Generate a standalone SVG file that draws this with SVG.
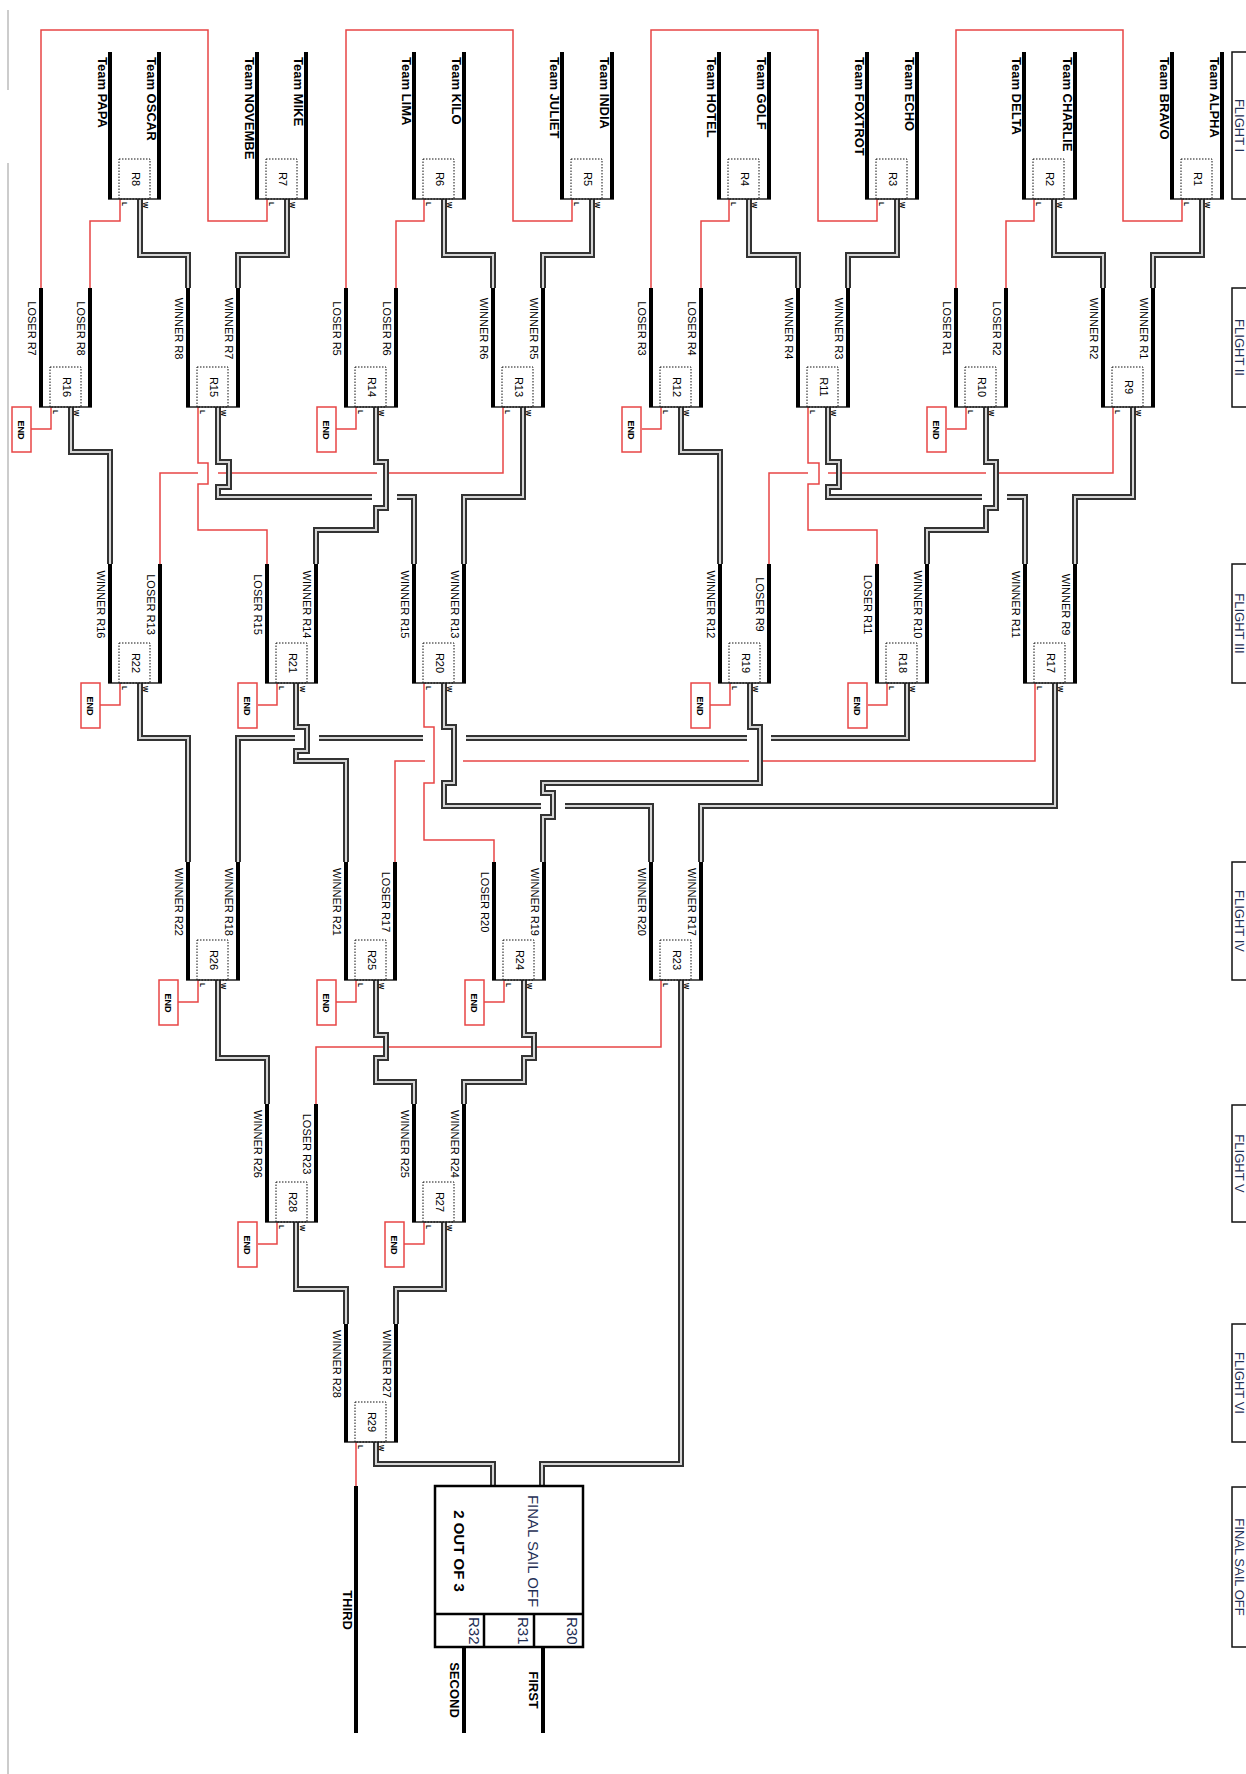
<svg xmlns="http://www.w3.org/2000/svg" width="1246" height="1774" viewBox="0 0 1246 1774">
<style>
.bar{stroke:#000;stroke-width:4;fill:none}
.base{stroke:#222;stroke-width:1.6;fill:none}
.dot{fill:none;stroke:#111;stroke-width:1;stroke-dasharray:1.5 1.5}
.red{fill:none;stroke:#e84545;stroke-width:1.5}
.wo{fill:none;stroke:#333;stroke-width:6}
.wi{fill:none;stroke:#d6d6d6;stroke-width:2}
.endb{fill:#fff;stroke:#e84545;stroke-width:1.5}
.fbox{fill:none;stroke:#111;stroke-width:1.5}
text{font-family:"Liberation Sans",Arial,sans-serif;fill:#000}
.team{font-size:13px;font-weight:bold}
.lab{font-size:11px;text-anchor:middle}
.rn{font-size:11px;text-anchor:middle}
.lw{font-size:6.5px;font-weight:bold}
.endt{font-size:9px;font-weight:bold;text-anchor:middle}
.fl{font-size:13px;fill:#1f2f55;text-anchor:middle}
.fin{font-size:15px;fill:#1f2f55}
.res{font-size:13px;font-weight:bold;text-anchor:middle}
</style>
<defs>
<g id="winpaths">
<path d="M140 199V255H188V288"/>
<path d="M287 199V255H238V288"/>
<path d="M444 199V255H493V288"/>
<path d="M592 199V255H543V288"/>
<path d="M749 199V255H798V288"/>
<path d="M897 199V255H848V288"/>
<path d="M1054 199V255H1103V288"/>
<path d="M1202 199V255H1153V288"/>
<path d="M71 407V452H110V564"/>
<path d="M218 407V462H229V487H218V497H372"/>
<path d="M397 497H414V564"/>
<path d="M376 407V462H386V508H376V530H316V564"/>
<path d="M523 407V497H464V564"/>
<path d="M681 407V452H720V564"/>
<path d="M828 407V462H839V487H828V497H982"/>
<path d="M1007 497H1025V564"/>
<path d="M986 407V462H996V508H986V530H927V564"/>
<path d="M1133 407V497H1075V564"/>
<path d="M140 683V738H188V862"/>
<path d="M296 683V727H307V751H296V761H346V862"/>
<path d="M444 683V727H454V783H444V806H541"/>
<path d="M565 806H651V862"/>
<path d="M750 683V727H760V783H543V793H553V817H543V862"/>
<path d="M907 683V738H771"/>
<path d="M747 738H466"/>
<path d="M423 738H319"/>
<path d="M295 738H238V862"/>
<path d="M1055 683V806H701V862"/>
<path d="M218 980V1058H267V1104"/>
<path d="M376 980V1035H386V1058H376V1082H414V1104"/>
<path d="M524 980V1035H534V1058H524V1082H464V1104"/>
<path d="M681 980V1464H542V1486"/>
<path d="M296 1222V1289H346V1324"/>
<path d="M444 1222V1289H396V1324"/>
<path d="M376 1442V1464H493V1486"/>
</g>
</defs>
<g id="page-border" stroke="#bbb" stroke-width="1.5">
<line x1="8" y1="10" x2="8" y2="90"/>
<line x1="8" y1="163" x2="8" y2="1774"/>
</g>
<g id="connectors">
<g class="red">
<path d="M120 199V221H90V288"/>
<path d="M267 199V221H208V30H41V288"/>
<path d="M424 199V221H396V288"/>
<path d="M572 199V221H513V30H346V288"/>
<path d="M729 199V221H701V288"/>
<path d="M877 199V221H818V30H651V288"/>
<path d="M1034 199V221H1006V288"/>
<path d="M1182 199V221H1123V30H956V288"/>
<path d="M51 407V429H31"/>
<path d="M198 407V463H208V484H198V530H267V564"/>
<path d="M356 407V429H336"/>
<path d="M503 407V473H387M377 473H218M198 473H160V564"/>
<path d="M661 407V429H642"/>
<path d="M808 407V463H819V484H808V530H877V564"/>
<path d="M966 407V429H947"/>
<path d="M1113 407V473H997M986 473H828M808 473H769V564"/>
<path d="M120 683V705H100"/>
<path d="M277 683V705H258"/>
<path d="M424 683V727H434V783H424V840H494V862"/>
<path d="M730 683V705H710"/>
<path d="M887 683V705H868"/>
<path d="M1035 683V761H763M749 761H463M425 761H395V862"/>
<path d="M198 980V1002H178"/>
<path d="M356 980V1002H336"/>
<path d="M504 980V1002H484"/>
<path d="M661 980V1047H316V1104"/>
<path d="M277 1222V1244H258"/>
<path d="M424 1222V1244H404"/>
<path d="M356 1442V1486"/>
</g>
<use href="#winpaths" class="wo"/>
<use href="#winpaths" class="wi"/>
</g>

<!-- FLIGHT I -->
<g id="R8"><path class="base" d="M108 199H161"/><path class="bar" d="M110 52V199M159 52V199"/><rect class="dot" x="119" y="159" width="31" height="40"/>
<text class="rn" transform="translate(132 179) rotate(90)">R8</text><text class="lw" transform="translate(122 202) rotate(90)">L</text><text class="lw" transform="translate(143 202) rotate(90)">W</text>
<text class="team" transform="translate(98 57) rotate(90)">Team PAPA</text><text class="team" transform="translate(147 57) rotate(90)">Team OSCAR</text></g>
<g id="R7"><path class="base" d="M255 199H308"/><path class="bar" d="M257 52V199M306 52V199"/><rect class="dot" x="266" y="159" width="31" height="40"/>
<text class="rn" transform="translate(279 179) rotate(90)">R7</text><text class="lw" transform="translate(269 202) rotate(90)">L</text><text class="lw" transform="translate(290 202) rotate(90)">W</text>
<text class="team" transform="translate(245 57) rotate(90)">Team NOVEMBE</text><text class="team" transform="translate(294 57) rotate(90)">Team MIKE</text></g>
<g id="R6"><path class="base" d="M412 199H466"/><path class="bar" d="M414 52V199M464 52V199"/><rect class="dot" x="423" y="159" width="31" height="40"/>
<text class="rn" transform="translate(436 179) rotate(90)">R6</text><text class="lw" transform="translate(426 202) rotate(90)">L</text><text class="lw" transform="translate(447 202) rotate(90)">W</text>
<text class="team" transform="translate(402 57) rotate(90)">Team LIMA</text><text class="team" transform="translate(452 57) rotate(90)">Team KILO</text></g>
<g id="R5"><path class="base" d="M560 199H614"/><path class="bar" d="M562 52V199M612 52V199"/><rect class="dot" x="571" y="159" width="31" height="40"/>
<text class="rn" transform="translate(584 179) rotate(90)">R5</text><text class="lw" transform="translate(574 202) rotate(90)">L</text><text class="lw" transform="translate(595 202) rotate(90)">W</text>
<text class="team" transform="translate(550 57) rotate(90)">Team JULIET</text><text class="team" transform="translate(600 57) rotate(90)">Team INDIA</text></g>
<g id="R4"><path class="base" d="M717 199H771"/><path class="bar" d="M719 52V199M769 52V199"/><rect class="dot" x="728" y="159" width="31" height="40"/>
<text class="rn" transform="translate(741 179) rotate(90)">R4</text><text class="lw" transform="translate(731 202) rotate(90)">L</text><text class="lw" transform="translate(752 202) rotate(90)">W</text>
<text class="team" transform="translate(707 57) rotate(90)">Team HOTEL</text><text class="team" transform="translate(757 57) rotate(90)">Team GOLF</text></g>
<g id="R3"><path class="base" d="M865 199H919"/><path class="bar" d="M867 52V199M917 52V199"/><rect class="dot" x="876" y="159" width="31" height="40"/>
<text class="rn" transform="translate(889 179) rotate(90)">R3</text><text class="lw" transform="translate(879 202) rotate(90)">L</text><text class="lw" transform="translate(900 202) rotate(90)">W</text>
<text class="team" transform="translate(855 57) rotate(90)">Team FOXTROT</text><text class="team" transform="translate(905 57) rotate(90)">Team ECHO</text></g>
<g id="R2"><path class="base" d="M1022 199H1077"/><path class="bar" d="M1024 52V199M1075 52V199"/><rect class="dot" x="1033" y="159" width="31" height="40"/>
<text class="rn" transform="translate(1046 179) rotate(90)">R2</text><text class="lw" transform="translate(1036 202) rotate(90)">L</text><text class="lw" transform="translate(1057 202) rotate(90)">W</text>
<text class="team" transform="translate(1012 57) rotate(90)">Team DELTA</text><text class="team" transform="translate(1063 57) rotate(90)">Team CHARLIE</text></g>
<g id="R1"><path class="base" d="M1170 199H1224"/><path class="bar" d="M1172 52V199M1222 52V199"/><rect class="dot" x="1181" y="159" width="31" height="40"/>
<text class="rn" transform="translate(1194 179) rotate(90)">R1</text><text class="lw" transform="translate(1184 202) rotate(90)">L</text><text class="lw" transform="translate(1205 202) rotate(90)">W</text>
<text class="team" transform="translate(1160 57) rotate(90)">Team BRAVO</text><text class="team" transform="translate(1210 57) rotate(90)">Team ALPHA</text></g>

<!-- FLIGHT II -->
<g id="R16"><path class="base" d="M39 407H92"/><path class="bar" d="M41 288V407M90 288V407"/><rect class="dot" x="50" y="367" width="31" height="40"/>
<text class="rn" transform="translate(63 387) rotate(90)">R16</text><text class="lw" transform="translate(53 410) rotate(90)">L</text><text class="lw" transform="translate(74 410) rotate(90)">W</text>
<text class="lab" transform="translate(28 328.5) rotate(90)">LOSER R7</text><text class="lab" transform="translate(77 328.5) rotate(90)">LOSER R8</text></g>
<g id="R15"><path class="base" d="M186 407H240"/><path class="bar" d="M188 288V407M238 288V407"/><rect class="dot" x="197" y="367" width="31" height="40"/>
<text class="rn" transform="translate(210 387) rotate(90)">R15</text><text class="lw" transform="translate(200 410) rotate(90)">L</text><text class="lw" transform="translate(221 410) rotate(90)">W</text>
<text class="lab" transform="translate(175 328.5) rotate(90)">WINNER R8</text><text class="lab" transform="translate(225 328.5) rotate(90)">WINNER R7</text></g>
<g id="R14"><path class="base" d="M344 407H398"/><path class="bar" d="M346 288V407M396 288V407"/><rect class="dot" x="355" y="367" width="31" height="40"/>
<text class="rn" transform="translate(368 387) rotate(90)">R14</text><text class="lw" transform="translate(358 410) rotate(90)">L</text><text class="lw" transform="translate(379 410) rotate(90)">W</text>
<text class="lab" transform="translate(333 328.5) rotate(90)">LOSER R5</text><text class="lab" transform="translate(383 328.5) rotate(90)">LOSER R6</text></g>
<g id="R13"><path class="base" d="M491 407H545"/><path class="bar" d="M493 288V407M543 288V407"/><rect class="dot" x="502" y="367" width="31" height="40"/>
<text class="rn" transform="translate(515 387) rotate(90)">R13</text><text class="lw" transform="translate(505 410) rotate(90)">L</text><text class="lw" transform="translate(526 410) rotate(90)">W</text>
<text class="lab" transform="translate(480 328.5) rotate(90)">WINNER R6</text><text class="lab" transform="translate(530 328.5) rotate(90)">WINNER R5</text></g>
<g id="R12"><path class="base" d="M649 407H703"/><path class="bar" d="M651 288V407M701 288V407"/><rect class="dot" x="660" y="367" width="31" height="40"/>
<text class="rn" transform="translate(673 387) rotate(90)">R12</text><text class="lw" transform="translate(663 410) rotate(90)">L</text><text class="lw" transform="translate(684 410) rotate(90)">W</text>
<text class="lab" transform="translate(638 328.5) rotate(90)">LOSER R3</text><text class="lab" transform="translate(688 328.5) rotate(90)">LOSER R4</text></g>
<g id="R11"><path class="base" d="M796 407H850"/><path class="bar" d="M798 288V407M848 288V407"/><rect class="dot" x="807" y="367" width="31" height="40"/>
<text class="rn" transform="translate(820 387) rotate(90)">R11</text><text class="lw" transform="translate(810 410) rotate(90)">L</text><text class="lw" transform="translate(831 410) rotate(90)">W</text>
<text class="lab" transform="translate(785 328.5) rotate(90)">WINNER R4</text><text class="lab" transform="translate(835 328.5) rotate(90)">WINNER R3</text></g>
<g id="R10"><path class="base" d="M954 407H1008"/><path class="bar" d="M956 288V407M1006 288V407"/><rect class="dot" x="965" y="367" width="31" height="40"/>
<text class="rn" transform="translate(978 387) rotate(90)">R10</text><text class="lw" transform="translate(968 410) rotate(90)">L</text><text class="lw" transform="translate(989 410) rotate(90)">W</text>
<text class="lab" transform="translate(943 328.5) rotate(90)">LOSER R1</text><text class="lab" transform="translate(993 328.5) rotate(90)">LOSER R2</text></g>
<g id="R9"><path class="base" d="M1101 407H1155"/><path class="bar" d="M1103 288V407M1153 288V407"/><rect class="dot" x="1112" y="367" width="31" height="40"/>
<text class="rn" transform="translate(1125 387) rotate(90)">R9</text><text class="lw" transform="translate(1115 410) rotate(90)">L</text><text class="lw" transform="translate(1136 410) rotate(90)">W</text>
<text class="lab" transform="translate(1090 328.5) rotate(90)">WINNER R2</text><text class="lab" transform="translate(1140 328.5) rotate(90)">WINNER R1</text></g>

<!-- FLIGHT III -->
<g id="R22"><path class="base" d="M108 683H162"/><path class="bar" d="M110 564V683M160 564V683"/><rect class="dot" x="119" y="643" width="31" height="40"/>
<text class="rn" transform="translate(132 663) rotate(90)">R22</text><text class="lw" transform="translate(122 686) rotate(90)">L</text><text class="lw" transform="translate(143 686) rotate(90)">W</text>
<text class="lab" transform="translate(97 604.5) rotate(90)">WINNER R16</text><text class="lab" transform="translate(147 604.5) rotate(90)">LOSER R13</text></g>
<g id="R21"><path class="base" d="M265 683H318"/><path class="bar" d="M267 564V683M316 564V683"/><rect class="dot" x="276" y="643" width="31" height="40"/>
<text class="rn" transform="translate(289 663) rotate(90)">R21</text><text class="lw" transform="translate(279 686) rotate(90)">L</text><text class="lw" transform="translate(300 686) rotate(90)">W</text>
<text class="lab" transform="translate(254 604.5) rotate(90)">LOSER R15</text><text class="lab" transform="translate(303 604.5) rotate(90)">WINNER R14</text></g>
<g id="R20"><path class="base" d="M412 683H466"/><path class="bar" d="M414 564V683M464 564V683"/><rect class="dot" x="423" y="643" width="31" height="40"/>
<text class="rn" transform="translate(436 663) rotate(90)">R20</text><text class="lw" transform="translate(426 686) rotate(90)">L</text><text class="lw" transform="translate(447 686) rotate(90)">W</text>
<text class="lab" transform="translate(401 604.5) rotate(90)">WINNER R15</text><text class="lab" transform="translate(451 604.5) rotate(90)">WINNER R13</text></g>
<g id="R19"><path class="base" d="M718 683H771"/><path class="bar" d="M720 564V683M769 564V683"/><rect class="dot" x="729" y="643" width="31" height="40"/>
<text class="rn" transform="translate(742 663) rotate(90)">R19</text><text class="lw" transform="translate(732 686) rotate(90)">L</text><text class="lw" transform="translate(753 686) rotate(90)">W</text>
<text class="lab" transform="translate(707 604.5) rotate(90)">WINNER R12</text><text class="lab" transform="translate(756 604.5) rotate(90)">LOSER R9</text></g>
<g id="R18"><path class="base" d="M875 683H929"/><path class="bar" d="M877 564V683M927 564V683"/><rect class="dot" x="886" y="643" width="31" height="40"/>
<text class="rn" transform="translate(899 663) rotate(90)">R18</text><text class="lw" transform="translate(889 686) rotate(90)">L</text><text class="lw" transform="translate(910 686) rotate(90)">W</text>
<text class="lab" transform="translate(864 604.5) rotate(90)">LOSER R11</text><text class="lab" transform="translate(914 604.5) rotate(90)">WINNER R10</text></g>
<g id="R17"><path class="base" d="M1023 683H1077"/><path class="bar" d="M1025 564V683M1075 564V683"/><rect class="dot" x="1034" y="643" width="31" height="40"/>
<text class="rn" transform="translate(1047 663) rotate(90)">R17</text><text class="lw" transform="translate(1037 686) rotate(90)">L</text><text class="lw" transform="translate(1058 686) rotate(90)">W</text>
<text class="lab" transform="translate(1012 604.5) rotate(90)">WINNER R11</text><text class="lab" transform="translate(1062 604.5) rotate(90)">WINNER R9</text></g>

<!-- FLIGHT IV -->
<g id="R26"><path class="base" d="M186 980H240"/><path class="bar" d="M188 862V980M238 862V980"/><rect class="dot" x="197" y="940" width="31" height="40"/>
<text class="rn" transform="translate(210 960) rotate(90)">R26</text><text class="lw" transform="translate(200 983) rotate(90)">L</text><text class="lw" transform="translate(221 983) rotate(90)">W</text>
<text class="lab" transform="translate(175 902) rotate(90)">WINNER R22</text><text class="lab" transform="translate(225 902) rotate(90)">WINNER R18</text></g>
<g id="R25"><path class="base" d="M344 980H397"/><path class="bar" d="M346 862V980M395 862V980"/><rect class="dot" x="355" y="940" width="31" height="40"/>
<text class="rn" transform="translate(368 960) rotate(90)">R25</text><text class="lw" transform="translate(358 983) rotate(90)">L</text><text class="lw" transform="translate(379 983) rotate(90)">W</text>
<text class="lab" transform="translate(333 902) rotate(90)">WINNER R21</text><text class="lab" transform="translate(382 902) rotate(90)">LOSER R17</text></g>
<g id="R24"><path class="base" d="M492 980H546"/><path class="bar" d="M494 862V980M544 862V980"/><rect class="dot" x="503" y="940" width="31" height="40"/>
<text class="rn" transform="translate(516 960) rotate(90)">R24</text><text class="lw" transform="translate(506 983) rotate(90)">L</text><text class="lw" transform="translate(527 983) rotate(90)">W</text>
<text class="lab" transform="translate(481 902) rotate(90)">LOSER R20</text><text class="lab" transform="translate(531 902) rotate(90)">WINNER R19</text></g>
<g id="R23"><path class="base" d="M649 980H703"/><path class="bar" d="M651 862V980M701 862V980"/><rect class="dot" x="660" y="940" width="31" height="40"/>
<text class="rn" transform="translate(673 960) rotate(90)">R23</text><text class="lw" transform="translate(663 983) rotate(90)">L</text><text class="lw" transform="translate(684 983) rotate(90)">W</text>
<text class="lab" transform="translate(638 902) rotate(90)">WINNER R20</text><text class="lab" transform="translate(688 902) rotate(90)">WINNER R17</text></g>

<!-- FLIGHT V -->
<g id="R28"><path class="base" d="M265 1222H318"/><path class="bar" d="M267 1104V1222M316 1104V1222"/><rect class="dot" x="276" y="1182" width="31" height="40"/>
<text class="rn" transform="translate(289 1202) rotate(90)">R28</text><text class="lw" transform="translate(279 1225) rotate(90)">L</text><text class="lw" transform="translate(300 1225) rotate(90)">W</text>
<text class="lab" transform="translate(254 1144) rotate(90)">WINNER R26</text><text class="lab" transform="translate(303 1144) rotate(90)">LOSER R23</text></g>
<g id="R27"><path class="base" d="M412 1222H466"/><path class="bar" d="M414 1104V1222M464 1104V1222"/><rect class="dot" x="423" y="1182" width="31" height="40"/>
<text class="rn" transform="translate(436 1202) rotate(90)">R27</text><text class="lw" transform="translate(426 1225) rotate(90)">L</text><text class="lw" transform="translate(447 1225) rotate(90)">W</text>
<text class="lab" transform="translate(401 1144) rotate(90)">WINNER R25</text><text class="lab" transform="translate(451 1144) rotate(90)">WINNER R24</text></g>

<!-- FLIGHT VI -->
<g id="R29"><path class="base" d="M344 1442H398"/><path class="bar" d="M346 1324V1442M396 1324V1442"/><rect class="dot" x="355" y="1402" width="31" height="40"/>
<text class="rn" transform="translate(368 1422) rotate(90)">R29</text><text class="lw" transform="translate(358 1445) rotate(90)">L</text><text class="lw" transform="translate(379 1445) rotate(90)">W</text>
<text class="lab" transform="translate(333 1364) rotate(90)">WINNER R28</text><text class="lab" transform="translate(383 1364) rotate(90)">WINNER R27</text></g>

<!-- END boxes -->
<g id="END-R16"><rect class="endb" x="12" y="407" width="19" height="45"/><text class="endt" transform="translate(18 430) rotate(90)">END</text></g>
<g id="END-R14"><rect class="endb" x="317" y="407" width="19" height="45"/><text class="endt" transform="translate(323 430) rotate(90)">END</text></g>
<g id="END-R12"><rect class="endb" x="622" y="407" width="19" height="45"/><text class="endt" transform="translate(628 430) rotate(90)">END</text></g>
<g id="END-R10"><rect class="endb" x="927" y="407" width="19" height="45"/><text class="endt" transform="translate(933 430) rotate(90)">END</text></g>
<g id="END-R22"><rect class="endb" x="81" y="683" width="19" height="45"/><text class="endt" transform="translate(87 706) rotate(90)">END</text></g>
<g id="END-R21"><rect class="endb" x="238" y="683" width="19" height="45"/><text class="endt" transform="translate(244 706) rotate(90)">END</text></g>
<g id="END-R19"><rect class="endb" x="691" y="683" width="19" height="45"/><text class="endt" transform="translate(697 706) rotate(90)">END</text></g>
<g id="END-R18"><rect class="endb" x="848" y="683" width="19" height="45"/><text class="endt" transform="translate(854 706) rotate(90)">END</text></g>
<g id="END-R26"><rect class="endb" x="159" y="980" width="19" height="45"/><text class="endt" transform="translate(165 1003) rotate(90)">END</text></g>
<g id="END-R25"><rect class="endb" x="317" y="980" width="19" height="45"/><text class="endt" transform="translate(323 1003) rotate(90)">END</text></g>
<g id="END-R24"><rect class="endb" x="465" y="980" width="19" height="45"/><text class="endt" transform="translate(471 1003) rotate(90)">END</text></g>
<g id="END-R28"><rect class="endb" x="238" y="1222" width="19" height="45"/><text class="endt" transform="translate(244 1245) rotate(90)">END</text></g>
<g id="END-R27"><rect class="endb" x="385" y="1222" width="19" height="45"/><text class="endt" transform="translate(391 1245) rotate(90)">END</text></g>

<!-- FINAL SAIL OFF -->
<g id="final">
<rect x="435" y="1486" width="148" height="161" fill="#fff" stroke="#000" stroke-width="2.5"/>
<path d="M435 1614H583M484 1614V1647M534 1614V1647" stroke="#000" stroke-width="2.5" fill="none"/>
<text class="fin" text-anchor="middle" transform="translate(528 1551) rotate(90)">FINAL SAIL OFF</text>
<text font-size="15" font-weight="bold" text-anchor="middle" transform="translate(454 1551) rotate(90)">2 OUT OF 3</text>
<text class="fin" transform="translate(469 1617) rotate(90)">R32</text>
<text class="fin" transform="translate(518 1617) rotate(90)">R31</text>
<text class="fin" transform="translate(567 1617) rotate(90)">R30</text>
</g>
<g id="third"><path class="bar" d="M356 1486V1733"/><text class="res" transform="translate(343 1610) rotate(90)">THIRD</text></g>
<g id="second"><path class="bar" d="M464 1647V1733"/><text class="res" transform="translate(450 1690) rotate(90)">SECOND</text></g>
<g id="first"><path class="bar" d="M543 1647V1733"/><text class="res" transform="translate(529 1690) rotate(90)">FIRST</text></g>

<!-- Flight labels -->
<g id="flight-1"><rect class="fbox" x="1232" y="52" width="30" height="147"/><text class="fl" transform="translate(1234.5 125.5) rotate(90)">FLIGHT I</text></g>
<g id="flight-2"><rect class="fbox" x="1232" y="288" width="30" height="119"/><text class="fl" transform="translate(1234.5 347.5) rotate(90)">FLIGHT II</text></g>
<g id="flight-3"><rect class="fbox" x="1232" y="564" width="30" height="119"/><text class="fl" transform="translate(1234.5 623.5) rotate(90)">FLIGHT III</text></g>
<g id="flight-4"><rect class="fbox" x="1232" y="862" width="30" height="118"/><text class="fl" transform="translate(1234.5 921) rotate(90)">FLIGHT IV</text></g>
<g id="flight-5"><rect class="fbox" x="1232" y="1105" width="30" height="117"/><text class="fl" transform="translate(1234.5 1163.5) rotate(90)">FLIGHT V</text></g>
<g id="flight-6"><rect class="fbox" x="1232" y="1324" width="30" height="118"/><text class="fl" transform="translate(1234.5 1383) rotate(90)">FLIGHT VI</text></g>
<g id="flight-final"><rect class="fbox" x="1232" y="1487" width="30" height="160"/><text class="fl" transform="translate(1234.5 1567) rotate(90)">FINAL SAIL OFF</text></g>
</svg>
